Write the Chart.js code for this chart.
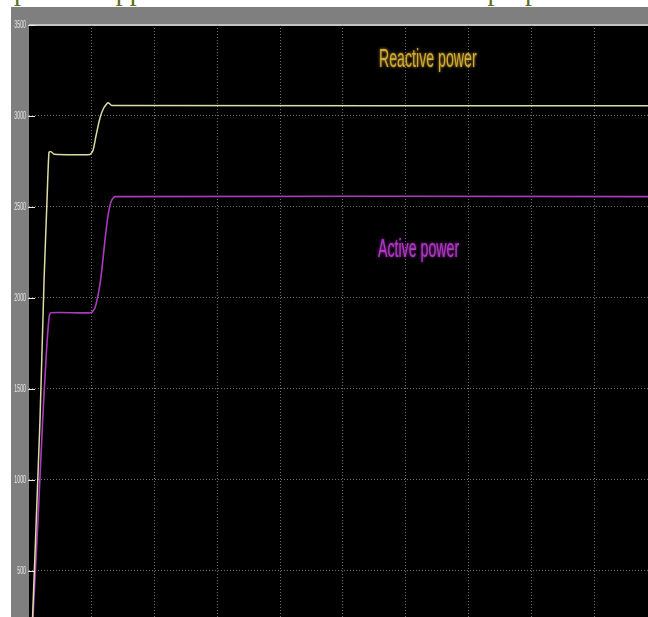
<!DOCTYPE html>
<html>
<head>
<meta charset="utf-8">
<script src="https://cdn.jsdelivr.net/npm/chart.js@4.4.1/dist/chart.umd.min.js"></script>
<style>
  html, body { margin: 0; padding: 0; background: #ffffff; }
  #wrap { position: relative; width: 648px; height: 617px; overflow: hidden; }
  #caption {
    position: absolute; left: 14px; top: -23px;
    font-family: 'Liberation Serif', 'Times New Roman', serif;
    font-size: 28px; line-height: 28px; color: #5d6f22; white-space: nowrap;
  }
  #c { position: absolute; left: 0; top: 0; }
</style>
</head>
<body>
<div id="wrap">
  <div id="caption">power supplies to the load is less with the proposed controller</div>
  <canvas id="c" width="648" height="617"></canvas>
</div>
<script>
// Simulation time (grid divisions) and power samples for each trace
const timeReactive  = [0.03, 0.175, 0.24, 0.287, 0.318, 0.35, 0.40, 0.97, 1.02, 1.07, 1.13, 1.19, 1.26, 1.32, 9.9];
const reactivePower = [0,    1330,  2100, 2538,  2800,  2804, 2790, 2789, 2812, 2896, 2989, 3044, 3073, 3058, 3056];

const timeActive  = [0.03, 0.064, 0.143, 0.218, 0.27, 0.318, 0.35, 0.987, 1.05, 1.115, 1.16, 1.21, 1.26, 1.31, 1.37, 9.9];
const activePower = [0,    247,   780,   1330,  1659, 1890,  1919, 1919,  1945, 2044,  2154, 2319, 2456, 2533, 2557, 2557];

const yTickValues = [500, 1000, 1500, 2000, 2500, 3000, 3500];
const xGridStep = 1;

const seriesLabels = ['Reactive power', 'Active power'];
const seriesColors = ['#dcdca4', '#a83cbc'];
const labelColors  = ['#d2aa34', '#b238c8'];

function toPoints(xs, ys) { return xs.map((x, i) => ({ x: x, y: ys[i] })); }

const scopePlugin = {
  id: 'scope',
  beforeDraw(chart) {
    const { ctx, chartArea: a } = chart;
    ctx.save();
    ctx.fillStyle = '#7f7f7f';
    ctx.fillRect(11, 7, chart.width - 11, chart.height - 7);
    ctx.fillStyle = '#000000';
    ctx.fillRect(a.left, a.top, a.right - a.left, a.bottom - a.top);
    // top frame line
    ctx.strokeStyle = '#c4c4c4';
    ctx.lineWidth = 2;
    ctx.beginPath();
    ctx.moveTo(a.left, a.top);
    ctx.lineTo(a.right, a.top);
    ctx.stroke();
    ctx.restore();
  },
  afterDraw(chart) {
    const { ctx, chartArea: a } = chart;
    const ys = chart.scales.y;
    ctx.save();
    // y tick labels and tick marks
    ctx.fillStyle = '#e8e8e8';
    ctx.strokeStyle = '#e8e8e8';
    ctx.lineWidth = 1;
    ctx.font = '11px "Liberation Sans", Arial, sans-serif';
    ctx.textAlign = 'right';
    ctx.textBaseline = 'middle';
    yTickValues.forEach(v => {
      const y = ys.getPixelForValue(v);
      ctx.beginPath();
      ctx.moveTo(a.left - 1, Math.round(y) + 0.5);
      ctx.lineTo(a.left + 6, Math.round(y) + 0.5);
      ctx.stroke();
      ctx.save();
      ctx.translate(26, y);
      ctx.scale(0.48, 1);
      ctx.fillText(String(v), 0, 0);
      ctx.restore();
    });
    // trace annotations
    ctx.font = '26px "Liberation Sans", Arial, sans-serif';
    ctx.textAlign = 'left';
    ctx.textBaseline = 'alphabetic';
    const annot = [
      { text: seriesLabels[0], x: 379, y: 67, color: labelColors[0] },
      { text: seriesLabels[1], x: 378, y: 257, color: labelColors[1] }
    ];
    annot.forEach(t => {
      ctx.save();
      ctx.translate(t.x, t.y);
      ctx.scale(0.545, 1);
      ctx.shadowColor = t.color;
      ctx.shadowBlur = 3;
      ctx.fillStyle = t.color;
      ctx.fillText(t.text, 0, 0);
      ctx.restore();
    });
    ctx.restore();
  }
};

new Chart(document.getElementById('c'), {
  type: 'line',
  data: {
    datasets: [
      {
        label: seriesLabels[0],
        data: toPoints(timeReactive, reactivePower),
        borderColor: seriesColors[0],
        borderWidth: 1.5,
        pointRadius: 0,
        tension: 0.2,
        fill: false
      },
      {
        label: seriesLabels[1],
        data: toPoints(timeActive, activePower),
        borderColor: seriesColors[1],
        borderWidth: 1.6,
        pointRadius: 0,
        tension: 0.2,
        fill: false
      }
    ]
  },
  options: {
    responsive: false,
    animation: false,
    events: [],
    layout: { padding: { left: 29, top: 25, right: 0, bottom: 0 } },
    plugins: { legend: { display: false }, tooltip: { enabled: false } },
    scales: {
      x: {
        type: 'linear',
        min: 0,
        max: 9.857,
        ticks: { display: false, stepSize: xGridStep },
        border: { display: false, dash: [1, 2] },
        grid: {
          drawTicks: false,
          color: ctx => ctx.tick && ctx.tick.value === 0 ? 'rgba(0,0,0,0)' : 'rgba(150,150,150,0.75)',
          lineWidth: 1
        }
      },
      y: {
        type: 'linear',
        min: 247,
        max: 3500,
        afterBuildTicks: scale => { scale.ticks = yTickValues.map(v => ({ value: v })); },
        ticks: { display: false },
        border: { display: false, dash: [1, 2] },
        grid: {
          drawTicks: false,
          color: ctx => ctx.tick && ctx.tick.value === 3500 ? 'rgba(0,0,0,0)' : 'rgba(150,150,150,0.75)',
          lineWidth: 1
        }
      }
    }
  },
  plugins: [scopePlugin]
});
</script>
</body>
</html>
